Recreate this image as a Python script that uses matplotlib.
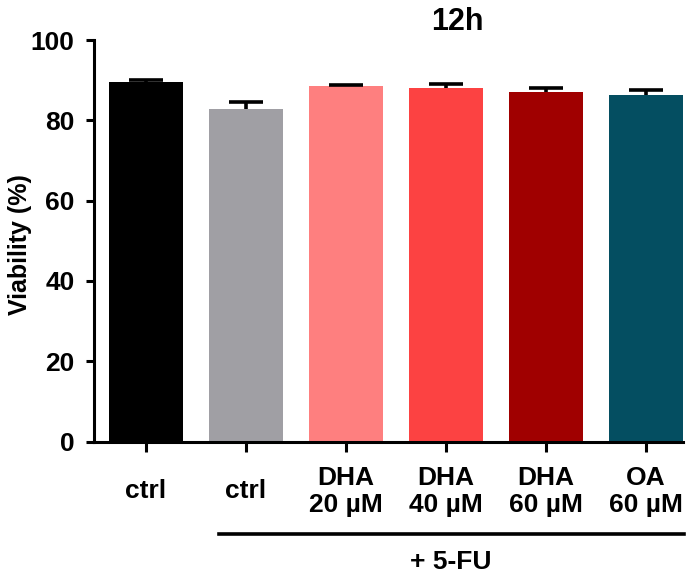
import matplotlib
matplotlib.use('Agg')
import matplotlib.pyplot as plt
import matplotlib.transforms as mtransforms

plt.rcParams['font.family'] = ['Liberation Sans', 'DejaVu Sans']
plt.rcParams['font.weight'] = 'bold'

# data
groups = ['ctrl', 'ctrl', 'DHA\n20 µM', 'DHA\n40 µM', 'DHA\n60 µM', 'OA\n60 µM']
viability = [89.6, 82.7, 88.6, 88.1, 87.1, 86.2]
sem = [0.4, 1.8, 0.2, 1.0, 0.9, 1.4]
colors = ['#000000', '#a09fa4', '#fe7f7f', '#fc4242', '#a00000', '#044e61']

fig = plt.figure(figsize=(6.93, 5.81), dpi=100)
ax = fig.add_axes([94 / 693, 1 - 441.5 / 581, 589 / 693, 401.5 / 581])

x = list(range(len(groups)))
ax.bar(x, viability, width=0.74, color=colors, zorder=2)
eb = ax.errorbar(x, viability, yerr=[[0] * len(sem), sem], fmt='none', ecolor='black',
                 elinewidth=2.6, capsize=12, capthick=2.6, zorder=3)
# only the upper cap, like the original (one-sided SEM)
eb[1][0].set_visible(False)

ax.set_xlim(-0.52, 5.37)
ax.set_ylim(0, 100)
ax.set_yticks([0, 20, 40, 60, 80, 100])
ax.set_xticks(x)
ax.set_xticklabels(groups, fontsize=19, fontweight='bold', linespacing=1.2)
for lab in ax.get_xticklabels():
    lab.set_verticalalignment('center')
ax.tick_params(axis='y', labelsize=19, width=2.2, length=6, pad=8)
ax.tick_params(axis='x', width=2.2, length=7, pad=29)

for side in ['top', 'right']:
    ax.spines[side].set_visible(False)
for side in ['left', 'bottom']:
    ax.spines[side].set_linewidth(2.2)

fig.text(20 / 693, 1 - 245 / 581, 'Viability (%)', rotation=90, ha='center', va='center',
         fontsize=18, fontweight='bold')
fig.text(457 / 693, 1 - 22 / 581, '12h', ha='center', va='center', fontsize=22, fontweight='bold')

# "+ 5-FU" bracket under the treated groups
trans = mtransforms.blended_transform_factory(ax.transData, ax.transAxes)
ax.plot([0.73, 5.38], [-0.2304, -0.2304], color='black', linewidth=2.6,
        transform=trans, clip_on=False)
ax.text(3.05, -0.30, '+ 5-FU', transform=trans, ha='center', va='center',
        fontsize=19, fontweight='bold')

fig.savefig('out.png', dpi=100)
